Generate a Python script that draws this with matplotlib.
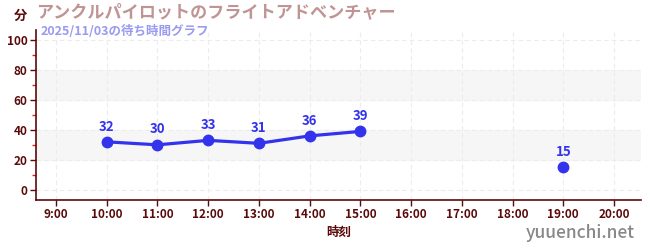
import numpy as np
import matplotlib
matplotlib.use("Agg")
import matplotlib.pyplot as plt
from matplotlib.ticker import MultipleLocator

plt.rcParams['font.family'] = ['Noto Sans CJK JP', 'DejaVu Sans']

title = "アンクルパイロットのフライトアドベンチャー"
subtitle = "2025/11/03の待ち時間グラフ"
hours = [10, 11, 12, 13, 14, 15, 16, 17, 18, 19]
waits = [32, 30, 33, 31, 36, 39, np.nan, np.nan, np.nan, 15]
xticks = list(range(9, 21))
xticklabels = [f"{h}:00" for h in xticks]
yticks = [0, 20, 40, 60, 80, 100]

dark = "#5a0a0a"
blue = "#3333ee"

fig = plt.figure(figsize=(6.5, 2.5), dpi=100)
ax = fig.add_axes([0.055, 0.2, 0.931, 0.68])
ax.set_xlim(8.6, 20.53)
ax.set_ylim(-7, 107)

for lo, hi in [(20, 40), (60, 80)]:
    ax.axhspan(lo, hi, color="#f6f6f6", zorder=0)
ax.set_xticks(xticks)
ax.set_xticklabels(xticklabels)
ax.set_yticks(yticks)
ax.yaxis.set_minor_locator(MultipleLocator(10))
ax.grid(True, which="major", color="#ececec", linestyle=(0, (4, 3)), linewidth=0.8)
ax.set_axisbelow(True)

ax.plot(hours, waits, color=blue, linewidth=2.3, marker="o", markersize=7.5, zorder=3)
for h, w in zip(hours, waits):
    if not np.isnan(w):
        ax.annotate(f"{int(w)}", (h, w), xytext=(0, 6), textcoords="offset points",
                    ha="center", va="bottom", color=blue, fontsize=9.5, fontweight="bold")

for s in ["top", "right"]:
    ax.spines[s].set_visible(False)
for s in ["left", "bottom"]:
    ax.spines[s].set_color(dark)
    ax.spines[s].set_linewidth(1.2)
ax.tick_params(axis="both", colors=dark, labelsize=8.5, length=4, width=1, pad=2)
ax.tick_params(axis="y", which="minor", colors="#dd2222", length=3, width=1)
for lab in ax.get_xticklabels() + ax.get_yticklabels():
    lab.set_fontweight("bold")
    lab.set_color(dark)

ax.set_xlabel("時刻", color=dark, fontsize=9, fontweight="bold", labelpad=3)
fig.text(0.031, 0.935, "分", color=dark, fontsize=9.5, fontweight="bold", ha="center", va="center")
fig.text(0.055, 0.95, title, color="#c09494", fontsize=12.3, fontweight="bold", ha="left", va="center")
fig.text(0.062, 0.875, subtitle, color="#9a9af0", fontsize=9, fontweight="bold", ha="left", va="center")
fig.text(0.976, 0.068, "yuuenchi.net", color="#888888", fontsize=12.5, fontweight="medium", ha="right", va="center")

fig.savefig("out.png", dpi=100)
